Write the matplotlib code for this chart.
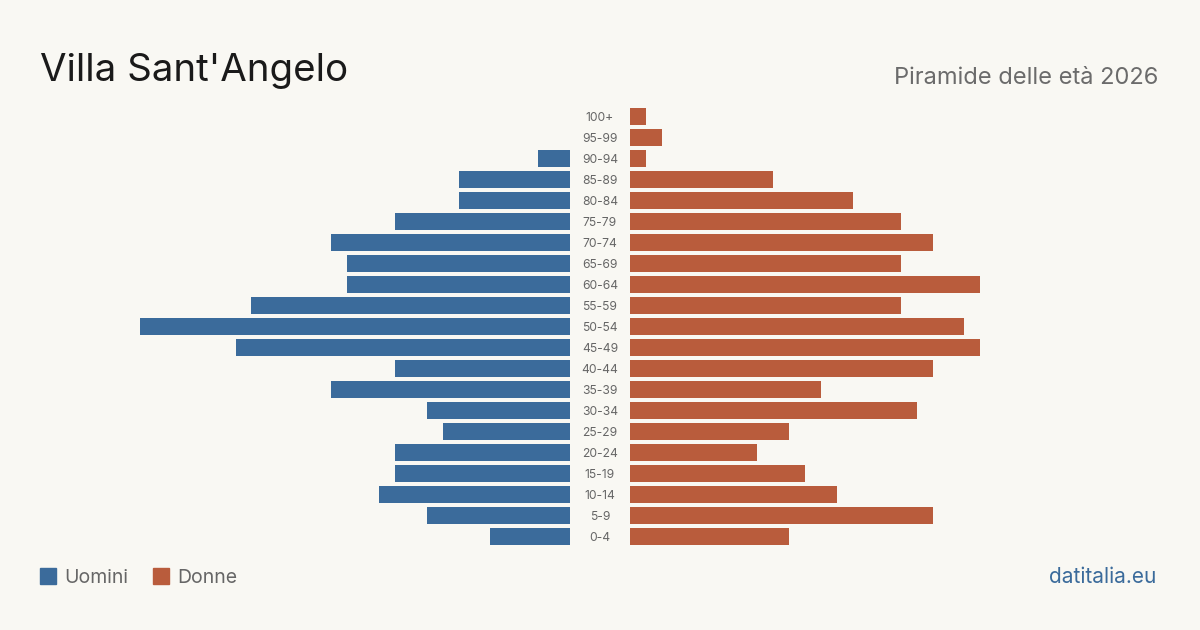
import matplotlib.pyplot as plt

plt.rcParams['font.family'] = ['Inter', 'DejaVu Sans']

age_groups = ["0-4", "5-9", "10-14", "15-19", "20-24", "25-29", "30-34", "35-39",
              "40-44", "45-49", "50-54", "55-59", "60-64", "65-69", "70-74", "75-79",
              "80-84", "85-89", "90-94", "95-99", "100+"]
uomini = [5, 9, 12, 11, 11, 8, 9, 15, 11, 21, 27, 20, 14, 14, 15, 11, 7, 7, 2, 0, 0]
donne = [10, 19, 13, 11, 8, 10, 18, 12, 19, 22, 21, 17, 22, 17, 19, 17, 14, 9, 1, 2, 1]

BLUE = "#3b6b9b"
ORANGE = "#b95c3c"
BG = "#f9f8f3"

W, H = 1200, 630
fig = plt.figure(figsize=(12, 6.3), dpi=100, facecolor=BG)

def box(x0, x1, top, bottom):
    return [x0 / W, 1 - bottom / H, (x1 - x0) / W, (bottom - top) / H]

xmax = 27
top, bottom = 106, 547
ax_l = fig.add_axes(box(140, 570, top, bottom))
ax_r = fig.add_axes(box(630, 1060, top, bottom))

pos = range(len(age_groups))
ax_l.barh(pos, uomini, height=0.81, color=BLUE)
ax_r.barh(pos, donne, height=0.81, color=ORANGE)
ax_l.set_xlim(xmax, 0)
ax_r.set_xlim(0, xmax)

for ax in (ax_l, ax_r):
    ax.set_ylim(-0.5, len(age_groups) - 0.5)
    ax.axis("off")
    ax.set_facecolor("none")

# age labels between the halves
for i, lab in enumerate(age_groups):
    ax_l.text(-1.875, i - 0.07, lab, ha="center", va="center", fontsize=8.7,
              color="#666666", clip_on=False)

fig.text(40 / W, 1 - 81 / H, "Villa Sant'Angelo", fontsize=27.7, color="#1a1a1a",
         ha="left", va="baseline")
fig.text(1158 / W, 1 - 84 / H, "Piramide delle età 2026", fontsize=17,
         color="#6b6b6b", ha="right", va="baseline")

# legend
fig.patches.append(plt.Rectangle((40 / W, 1 - 584 / H), 16 / W, 16 / H,
                                 transform=fig.transFigure, color=BLUE))
fig.text(64 / W, 1 - 583 / H, "Uomini", fontsize=14, color="#666666", va="baseline")
fig.patches.append(plt.Rectangle((153 / W, 1 - 584 / H), 16 / W, 16 / H,
                                 transform=fig.transFigure, color=ORANGE))
fig.text(177 / W, 1 - 583 / H, "Donne", fontsize=14, color="#666666", va="baseline")

fig.text(1156 / W, 1 - 583 / H, "datitalia.eu", fontsize=15, color=BLUE,
         ha="right", va="baseline")

fig.savefig("out.png", dpi=100, facecolor=BG)
